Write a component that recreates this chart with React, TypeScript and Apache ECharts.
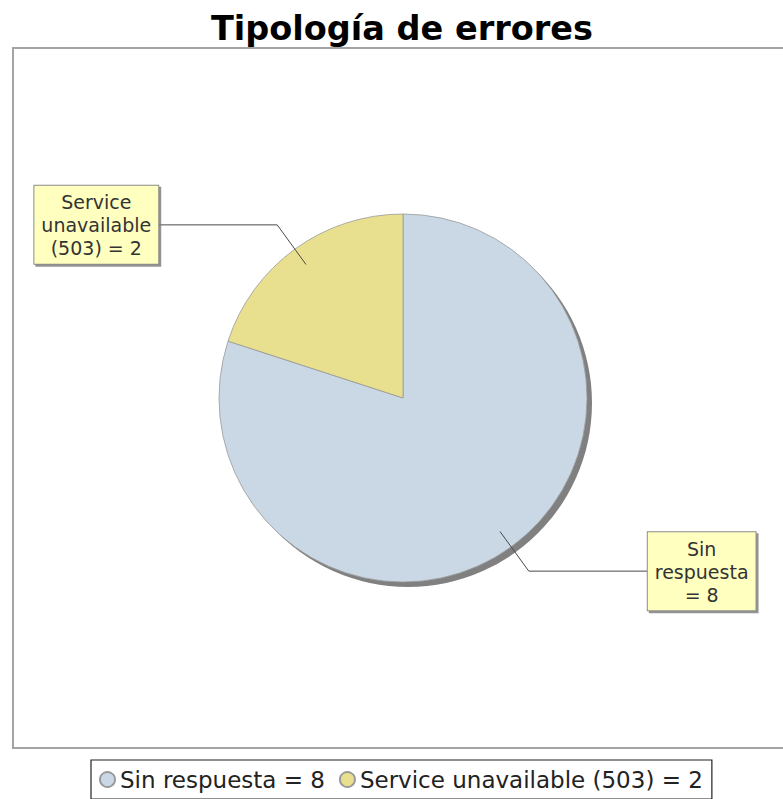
import React, { useEffect, useRef } from "react";
import * as echarts from "echarts";

const titleText = "Tipología de errores";
const categories = ["Sin respuesta", "Service unavailable (503)"];
const values = [8, 2];
const labelWrapped = ["Sin\nrespuesta\n=", "Service\nunavailable\n(503) ="];
const sliceColors = ["#c9d8e4", "#e8df8f"];

const FONT = "'DejaVu Sans', 'Liberation Sans', sans-serif";

export default function App() {
  const ref = useRef<HTMLDivElement>(null);

  useEffect(() => {
    if (!ref.current) return;
    const chart = echarts.init(ref.current, null, { renderer: "svg" });

    const mainData = categories.map((name, i) => ({
      name,
      value: values[i],
      itemStyle: { color: sliceColors[i] },
    }));
    const shadowData = categories.map((name, i) => ({
      name: name + " (sombra)",
      value: values[i],
    }));
    const overlayData = categories.map((name, i) => ({
      name: name + " (etiqueta)",
      value: values[i],
    }));

    const pieCenter = [403, 398];
    const pieRadius = 184;
    const anchorRadius = 165;

    const option: any = {
      animation: false,
      backgroundColor: "#ffffff",
      title: {
        text: titleText,
        left: 211,
        top: 11,
        padding: 0,
        textStyle: {
          fontFamily: FONT,
          fontSize: 33.5,
          fontWeight: "bold",
          color: "#000000",
          lineHeight: 34,
        },
      },
      graphic: [
        {
          type: "rect",
          x: 13,
          y: 48,
          z: -10,
          shape: { width: 800, height: 700 },
          style: { fill: "none", stroke: "#a4a4a4", lineWidth: 2 },
          silent: true,
        },
      ],
      legend: {
        data: categories,
        left: 91,
        top: 760,
        orient: "horizontal",
        icon: "circle",
        itemWidth: 15,
        itemHeight: 15,
        itemGap: 14,
        padding: [8, 9, 8, 8],
        borderColor: "#222222",
        borderWidth: 1.2,
        backgroundColor: "#ffffff",
        textStyle: { fontFamily: FONT, fontSize: 23, color: "#222222" },
        formatter: (name: string) => {
          const i = categories.indexOf(name);
          return `${name} = ${values[i]}`;
        },
      },
      series: [
        {
          type: "pie",
          name: "sombra",
          z: 1,
          silent: true,
          center: [pieCenter[0] + 5, pieCenter[1] + 5],
          radius: pieRadius,
          startAngle: 90,
          clockwise: true,
          data: shadowData,
          itemStyle: { color: "#808080", borderWidth: 0 },
          label: { show: false },
          labelLine: { show: false },
          emphasis: { disabled: true },
        },
        {
          type: "pie",
          name: "Tipología",
          z: 2,
          center: pieCenter,
          radius: pieRadius,
          startAngle: 90,
          clockwise: true,
          data: mainData,
          itemStyle: { borderColor: "#9a9a9a", borderWidth: 0.8 },
          emphasis: { disabled: true },
          label: { show: false },
          labelLine: { show: false },
        },
        {
          type: "pie",
          name: "etiquetas",
          z: 3,
          silent: true,
          center: pieCenter,
          radius: anchorRadius,
          startAngle: 90,
          clockwise: true,
          avoidLabelOverlap: false,
          data: overlayData,
          itemStyle: { color: "rgba(0,0,0,0)", borderWidth: 0 },
          emphasis: { disabled: true },
          label: {
            show: true,
            position: "outside",
            distanceToLabelLine: 0,
            fontFamily: FONT,
            fontSize: 19,
            lineHeight: 23,
            color: "#333333",
            backgroundColor: "#ffffc0",
            borderColor: "#8c8c8c",
            borderWidth: 1,
            padding: [5, 7, 4, 7],
            shadowColor: "rgba(120,120,120,0.8)",
            shadowOffsetX: 2,
            shadowOffsetY: 2,
            shadowBlur: 0,
            formatter: (p: any) =>
              (labelWrapped[p.dataIndex] + " " + p.value)
                .split("\n")
                .map((l: string) => `{c|${l}}`)
                .join("\n"),
            rich: {
              c: {
                align: "center",
                fontFamily: FONT,
                fontSize: 19,
                lineHeight: 23,
                color: "#333333",
              },
            },
          },
          labelLine: {
            show: true,
            length: 49,
            length2: 119,
            lineStyle: { color: "#4a4a4a", width: 1 },
          },
        },
      ],
    };

    chart.setOption(option);
    return () => chart.dispose();
  }, []);

  return (
    <div
      ref={ref}
      style={{ position: "fixed", left: 0, top: 0, width: 783, height: 799 }}
    />
  );
}
